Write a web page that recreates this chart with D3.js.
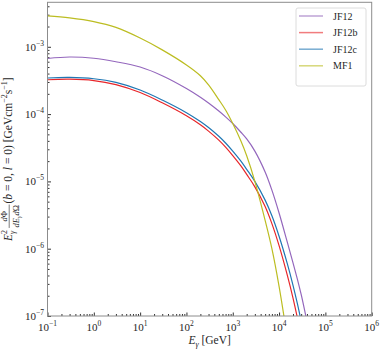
<!DOCTYPE html>
<html>
<head>
<meta charset="utf-8">
<style>
  body { margin: 0; background: #fff; }
  text { font-family: "Liberation Serif", "DejaVu Serif", serif; fill: #262626; }
  .tick line { stroke: #333; }
</style>
</head>
<body>
<svg id="chart" width="382" height="349"></svg>
<script src="https://cdnjs.cloudflare.com/ajax/libs/d3/7.8.5/d3.min.js"></script>
<script>
// photon energy grid (GeV) and E^2 dPhi/dE dOmega at b=0, l=0
var energy = [0.1, 0.3, 1, 3, 10, 30, 100, 200, 300, 500, 700, 1000, 1500, 2000, 3000, 5000, 7000, 10000, 15000, 20000, 25000, 30000, 40000];
var jf12  = [6.7e-4, 7.05e-4, 6.76e-4, 6.0e-4, 5.0e-4, 3.72e-4, 2.4e-4, 1.78e-4, 1.46e-4, 1.11e-4, 9.1e-5, 7.24e-5, 5.37e-5, 4.27e-5, 2.82e-5, 1.38e-5, 7.41e-6, 3.39e-6, 1.26e-6, 6.17e-7, 3.47e-7, 2.09e-7, 8.3e-8];
var jf12b = [3.24e-4, 3.3e-4, 3.15e-4, 2.74e-4, 2.09e-4, 1.47e-4, 9.44e-5, 6.93e-5, 5.58e-5, 4.1e-5, 3.23e-5, 2.42e-5, 1.7e-5, 1.27e-5, 8.3e-6, 4.24e-6, 2.36e-6, 1.11e-6, 4.08e-7, 1.85e-7, 9.2e-8, 4.9e-8];
var jf12c = [3.44e-4, 3.5e-4, 3.35e-4, 2.96e-4, 2.28e-4, 1.62e-4, 1.05e-4, 7.76e-5, 6.31e-5, 4.68e-5, 3.72e-5, 2.82e-5, 2.0e-5, 1.51e-5, 1.0e-5, 5.27e-6, 3.08e-6, 1.53e-6, 6.04e-7, 2.86e-7, 1.5e-7, 8.4e-8];
var mf1   = [2.87e-3, 2.69e-3, 2.37e-3, 1.94e-3, 1.35e-3, 9.0e-4, 5.37e-4, 3.72e-4, 2.72e-4, 1.64e-4, 1.15e-4, 7.24e-5, 3.98e-5, 2.4e-5, 1.0e-5, 2.63e-6, 1.0e-6, 2.75e-7, 4.8e-8];

var seriesNames = ["JF12", "JF12b", "JF12c", "MF1"];
var seriesValues = [jf12, jf12b, jf12c, mf1];
var seriesColors = ["#9467bd", "#e8262a", "#1f77b4", "#bcbd22"];

var xMajor = [-1, 0, 1, 2, 3, 4, 5, 6];
var yMajor = [-7, -6, -5, -4, -3];

var svg = d3.select("#chart");
var pLeft = 47.5, pRight = 371.7, pTop = 2.3, pBottom = 316;

var x = d3.scaleLog().domain([0.1, 1e6]).range([pLeft, pRight]);
var y = d3.scaleLog().domain([1e-7, Math.pow(10, -2.339)]).range([pBottom, pTop]);

svg.append("clipPath").attr("id", "clip")
  .append("rect").attr("x", pLeft).attr("y", pTop)
  .attr("width", pRight - pLeft).attr("height", pBottom - pTop);

// minor ticks
var xMinor = [], yMinor = [];
for (var d = -1; d < 6; d++) for (var k = 2; k < 10; k++) xMinor.push(k * Math.pow(10, d));
for (var d = -7; d < -2; d++) for (var k = 2; k < 10; k++) {
  var v = k * Math.pow(10, d);
  if (v < y.domain()[1]) yMinor.push(v);
}

svg.append("g").attr("transform", "translate(0," + pBottom + ")")
  .call(d3.axisBottom(x).tickValues(xMinor).tickSize(-2).tickFormat(""))
  .call(g => g.select(".domain").remove());
svg.append("g").attr("transform", "translate(0," + pBottom + ")")
  .call(d3.axisBottom(x).tickValues(xMajor.map(e => Math.pow(10, e))).tickSize(-3.5).tickFormat(""))
  .call(g => g.select(".domain").remove());
svg.append("g").attr("transform", "translate(" + pLeft + ",0)")
  .call(d3.axisLeft(y).tickValues(yMinor).tickSize(-2).tickFormat(""))
  .call(g => g.select(".domain").remove());
svg.append("g").attr("transform", "translate(" + pLeft + ",0)")
  .call(d3.axisLeft(y).tickValues(yMajor.map(e => Math.pow(10, e))).tickSize(-3.5).tickFormat(""))
  .call(g => g.select(".domain").remove());

// tick labels 10^n
function powLabel(g, e, anchor) {
  var t = g.append("text").attr("text-anchor", anchor).style("font-size", "11px");
  t.append("tspan").text("10");
  t.append("tspan").attr("dy", -5).style("font-size", "7.5px").text(e < 0 ? "\u2212" + (-e) : e);
  return t;
}
xMajor.forEach(function(e) {
  var g = svg.append("g").attr("transform", "translate(" + x(Math.pow(10, e)) + ",331)");
  powLabel(g, e, "middle");
});
yMajor.forEach(function(e) {
  var g = svg.append("g").attr("transform", "translate(44," + (y(Math.pow(10, e)) + 4) + ")");
  powLabel(g, e, "end");
});

// curves
var line = d3.line()
  .x(d => x(d[0])).y(d => y(d[1]))
  .curve(d3.curveCatmullRom.alpha(0.5));
var plot = svg.append("g").attr("clip-path", "url(#clip)");
seriesValues.forEach(function(vals, i) {
  plot.append("path")
    .datum(vals.map((v, j) => [energy[j], v]))
    .attr("d", line)
    .attr("fill", "none")
    .attr("stroke", seriesColors[i])
    .attr("stroke-width", 1.2);
});

// frame
svg.append("rect").attr("x", pLeft).attr("y", pTop)
  .attr("width", pRight - pLeft).attr("height", pBottom - pTop)
  .attr("fill", "none").attr("stroke", "#8c8c8c").attr("stroke-width", 1);

// legend
var lg = svg.append("g");
lg.append("rect").attr("x", 296).attr("y", 8).attr("width", 70).attr("height", 78)
  .attr("rx", 2).attr("fill", "#fff").attr("stroke", "#dcdcdc");
seriesNames.forEach(function(n, i) {
  var ly = 16 + i * 16.6;
  lg.append("line").attr("x1", 299).attr("x2", 323).attr("y1", ly).attr("y2", ly)
    .attr("stroke", seriesColors[i]).attr("stroke-width", 1.5).attr("opacity", 0.6);
  lg.append("text").attr("x", 333).attr("y", ly + 3.5).style("font-size", "10px").text(n);
});

// x label
var xl = svg.append("text").attr("x", (pLeft + pRight) / 2).attr("y", 344)
  .attr("text-anchor", "middle").style("font-size", "11.5px");
xl.append("tspan").style("font-style", "italic").text("E");
xl.append("tspan").attr("dy", 3).style("font-size", "8px").style("font-style", "italic").text("\u03b3");
xl.append("tspan").attr("dy", -3).text(" [GeV]");

// y label, built piece by piece in a rotated group
var fs = 11.5;
var yl = svg.append("g");
var cur = 0;
function piece(str, dy, size, italic, atX) {
  var t = yl.append("text").attr("x", atX == null ? cur : atX).attr("y", dy)
    .style("font-size", size + "px").style("font-style", italic ? "italic" : "normal").text(str);
  return t.node().getComputedTextLength();
}
cur += piece("E", 0, fs, true);
var w1 = piece("2", -5, 8, false, cur);
var w2 = piece("\u03b3", 3, 8, true, cur);
cur += Math.max(w1, w2) + 2;
// fraction
var fx = cur;
var numG = yl.append("text").attr("y", -5).style("font-size", "8.5px");
numG.append("tspan").style("font-style", "italic").text("d");
numG.append("tspan").text("\u03a6");
var numW = numG.node().getComputedTextLength();
var den = yl.append("text").attr("y", 7).style("font-size", "8.5px");
den.append("tspan").style("font-style", "italic").text("dE");
den.append("tspan").attr("dy", 1.5).style("font-size", "6px").style("font-style", "italic").text("\u03b3");
den.append("tspan").attr("dy", -1.5).style("font-style", "italic").text("d");
den.append("tspan").text("\u03a9");
var denW = den.node().getComputedTextLength();
var fw = Math.max(numW, denW) + 1;
numG.attr("x", fx + (fw - numW) / 2);
den.attr("x", fx + (fw - denW) / 2);
yl.append("line").attr("x1", fx).attr("x2", fx + fw).attr("y1", -2.8).attr("y2", -2.8)
  .attr("stroke", "#262626").attr("stroke-width", 0.6);
cur += fw + 1;
var rest = yl.append("text").attr("x", cur).attr("y", 0).style("font-size", fs + "px");
rest.append("tspan").text("(");
rest.append("tspan").style("font-style", "italic").text("b");
rest.append("tspan").text(" = 0, ");
rest.append("tspan").style("font-style", "italic").text("l");
rest.append("tspan").text(" = 0) [GeVcm");
rest.append("tspan").attr("dy", -5).style("font-size", "8px").text("\u22122");
rest.append("tspan").attr("dy", 5).text("s");
rest.append("tspan").attr("dy", -5).style("font-size", "8px").text("\u22121");
rest.append("tspan").attr("dy", 5).text("]");
cur += rest.node().getComputedTextLength();
yl.attr("transform", "translate(12," + ((pTop + pBottom) / 2 + cur / 2) + ") rotate(-90)");
</script>
</body>
</html>
